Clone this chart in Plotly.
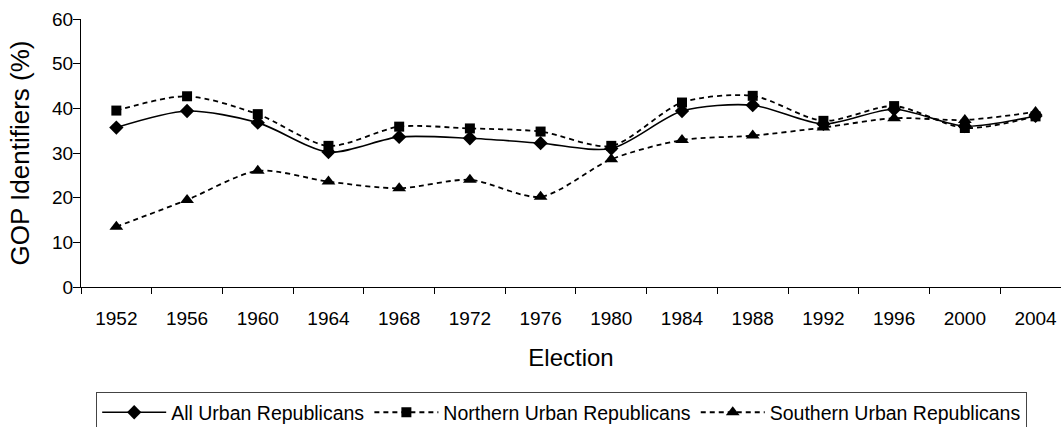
import plotly.graph_objects as go

years = ["1952", "1956", "1960", "1964", "1968", "1972", "1976", "1980",
         "1984", "1988", "1992", "1996", "2000", "2004"]
all_urban = [35.7, 39.4, 36.8, 30.2, 33.6, 33.3, 32.2, 31.0, 39.4, 40.7, 36.5, 39.8, 36.0, 38.3]
northern = [39.5, 42.7, 38.7, 31.6, 35.9, 35.5, 34.8, 31.6, 41.3, 42.8, 37.2, 40.5, 35.6, 38.2]
southern = [13.5, 19.5, 26.0, 23.6, 22.1, 24.0, 20.2, 28.6, 32.9, 33.9, 35.7, 37.8, 37.4, 39.2]

FONT = "Liberation Sans, Arial, sans-serif"

fig = go.Figure()
fig.add_trace(go.Scatter(
    x=years, y=all_urban, name="All Urban Republicans", mode="lines+markers",
    line=dict(color="black", width=1.6, shape="spline", smoothing=0.8),
    marker=dict(symbol="diamond", size=11, color="black")))
fig.add_trace(go.Scatter(
    x=years, y=northern, name="Northern Urban Republicans", mode="lines+markers",
    line=dict(color="black", width=1.8, dash="5px,4px", shape="spline", smoothing=0.8),
    marker=dict(symbol="square", size=10, color="black")))
fig.add_trace(go.Scatter(
    x=years, y=southern, name="Southern Urban Republicans", mode="lines+markers",
    line=dict(color="black", width=1.8, dash="5px,4px", shape="spline", smoothing=0.8),
    marker=dict(symbol="triangle-up", size=12, color="black")))

fig.update_layout(
    width=1061, height=427,
    margin=dict(l=81, r=0, t=19, b=140, autoexpand=False),
    paper_bgcolor="white", plot_bgcolor="white",
    font=dict(family=FONT, color="black", size=19),
    showlegend=True,
    legend=dict(orientation="h", x=0.0155, xanchor="left", y=-0.392, yanchor="top",
                bordercolor="#444", borderwidth=1, font=dict(size=19.5, family=FONT),
                itemwidth=64, tracegroupgap=0),
    xaxis=dict(
        type="category", range=[-0.5, 13.36], tickson="boundaries", automargin=False,
        ticks="outside", ticklen=6, tickcolor="black", showline=True,
        linecolor="black", linewidth=1.2, showgrid=False, zeroline=False,
        tickfont=dict(size=19, family=FONT), ticklabelstandoff=14,
        title=dict(text="Election", font=dict(size=24, family=FONT), standoff=21)),
    yaxis=dict(
        range=[0, 60], dtick=10, ticks="outside", ticklen=7, tickcolor="black",
        showline=True, linecolor="black", linewidth=1.2, showgrid=False, automargin=False,
        zeroline=False, tickfont=dict(size=19, family=FONT), ticklabelstandoff=-4,
        title=dict(text="GOP Identifiers (%)", font=dict(size=26, family=FONT), standoff=14)),
)

fig.write_html("out.html", config={"displayModeBar": False},
               post_script="document.body.style.margin='0';")
